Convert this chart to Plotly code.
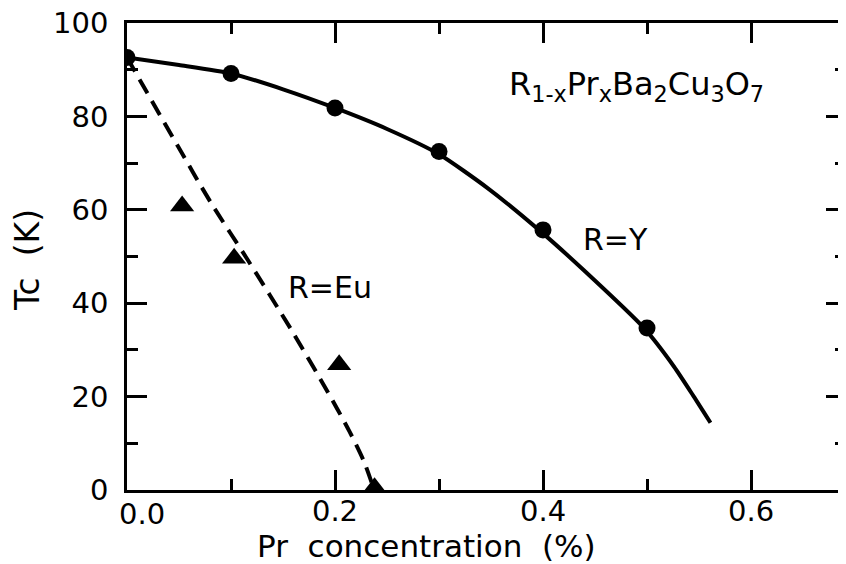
import plotly.graph_objects as go

# Measured data: R = Y (circles)
y_x = [0.0, 0.1, 0.2, 0.3, 0.4, 0.5]
y_tc = [92.6, 89.2, 81.8, 72.5, 55.7, 34.7]

# Fitted curve for R = Y
y_fit_x = [0.0, 0.05, 0.1, 0.15, 0.2, 0.25, 0.3, 0.347, 0.396, 0.439, 0.497, 0.526, 0.545, 0.561]
y_fit_tc = [92.6, 91.0, 89.2, 85.8, 81.8, 77.3, 71.9, 64.6, 55.7, 47.1, 34.7, 26.4, 20.0, 14.4]

# Measured data: R = Eu (triangles)
eu_x = [0.053, 0.103, 0.204, 0.238]
eu_tc = [60.8, 49.6, 26.8, 0.5]

# Dashed guide for R = Eu
eu_fit_x = [0.0, 0.049, 0.081, 0.116, 0.158, 0.193, 0.214, 0.228, 0.237]
eu_fit_tc = [92.6, 73.6, 61.4, 49.3, 34.3, 21.0, 12.5, 6.0, 0.4]

x_ticks = [0.0, 0.2, 0.4, 0.6]
x_tick_labels = ["0.0", "0.2", "0.4", "0.6"]
y_ticks = [0, 20, 40, 60, 80, 100]
y_tick_labels = ["0", "20", "40", "60", "80", "100"]

TICK_FONT = dict(family="DejaVu Sans", size=29, color="black")
TEXT_FONT = dict(family="DejaVu Sans", size=30, color="black")

# page offset of the figure inside the browser window
OFF = 8
# plot-area geometry in screen pixels
L, R_, T_, B_ = 127, 846, 23, 490
W_, H_ = R_ - L, B_ - T_

def px_to_paper(px, py):
    return (px - L) / W_, (B_ - py) / H_

fig = go.Figure()

fig.add_trace(go.Scatter(x=eu_fit_x, y=eu_fit_tc, mode="lines",
                         line=dict(color="black", width=4, dash="16px,9px", shape="spline", smoothing=0.8),
                         hoverinfo="skip", showlegend=False))
fig.add_trace(go.Scatter(x=y_fit_x, y=y_fit_tc, mode="lines",
                         line=dict(color="black", width=4, shape="spline", smoothing=0.6),
                         hoverinfo="skip", showlegend=False))
fig.add_trace(go.Scatter(x=y_x, y=y_tc, mode="markers",
                         marker=dict(symbol="circle", size=17, color="black"),
                         name="R=Y", showlegend=False))
fig.add_trace(go.Scatter(x=eu_x, y=eu_tc, mode="markers",
                         marker=dict(symbol="triangle-up", size=21, color="black"),
                         name="R=Eu", showlegend=False))
# hidden trace to realise the right-hand tick axis
fig.add_trace(go.Scatter(x=[0.0], y=[0.0], yaxis="y2", mode="markers",
                         marker=dict(opacity=0), hoverinfo="skip", showlegend=False))

for text, (px, py), font in [
    ("R=Y", (615, 240), TEXT_FONT),
    ("R=Eu", (330, 287), TEXT_FONT),
    ("R<sub>1-x</sub>Pr<sub>x</sub>Ba<sub>2</sub>Cu<sub>3</sub>O<sub>7</sub>", (636, 86),
     dict(family="DejaVu Sans", size=32, color="black")),
    # first x tick label sits slightly right of its tick in the original
    (x_tick_labels[0], (142, 514), TICK_FONT),
]:
    xp, yp = px_to_paper(px, py)
    fig.add_annotation(x=xp, y=yp, xref="paper", yref="paper", text=text,
                       showarrow=False, font=font, xanchor="center", yanchor="middle")

# axis titles
xp, yp = px_to_paper(426, 546)
fig.add_annotation(x=xp, y=yp, xref="paper", yref="paper", text="Pr  concentration  (%)",
                   showarrow=False, font=dict(family="DejaVu Sans", size=31, color="black"),
                   xanchor="center", yanchor="middle")
xp, yp = px_to_paper(27, 260)
fig.add_annotation(x=xp, y=yp, xref="paper", yref="paper", text="Tc  (K)", textangle=-90,
                   showarrow=False, font=dict(family="DejaVu Sans", size=33, color="black"),
                   xanchor="center", yanchor="middle")

axis_common = dict(showgrid=False, zeroline=False, showline=True, linecolor="black",
                   linewidth=2.5, ticks="inside", tickcolor="black", tickwidth=2.5,
                   ticklen=20, tickfont=TICK_FONT, automargin=False,
                   ticklabeloverflow="allow")

fig.update_layout(
    width=846, height=564,
    margin=dict(l=L - OFF, r=846 - (R_ - OFF), t=T_ - OFF, b=564 - (B_ - OFF)),
    paper_bgcolor="white", plot_bgcolor="white",
    xaxis=dict(range=[0, 0.6913], tickvals=x_ticks[1:], ticktext=x_tick_labels[1:],
               mirror="ticks", ticklabelstandoff=-7,
               minor=dict(dtick=0.1, tick0=0, ticks="inside", ticklen=11,
                          tickwidth=2.5, tickcolor="black"),
               **axis_common),
    yaxis=dict(range=[0, 100], tickvals=y_ticks, ticktext=y_tick_labels,
               ticklabelstandoff=10,
               minor=dict(dtick=10, tick0=0, ticks="inside", ticklen=11,
                          tickwidth=2.5, tickcolor="black"),
               **axis_common),
    yaxis2=dict(range=[0, 100], overlaying="y", side="right", anchor="x",
                showgrid=False, zeroline=False, showline=False, automargin=False,
                ticks="inside", tickcolor="black", tickwidth=2.5, ticklen=20,
                tickvals=y_ticks, showticklabels=False,
                minor=dict(dtick=10, tick0=0, ticks="inside", ticklen=11,
                           tickwidth=2.5, tickcolor="black")),
)

fig.write_html("out.html")
